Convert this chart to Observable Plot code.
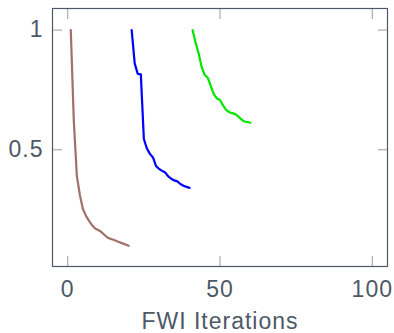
<!DOCTYPE html>
<html>
<head>
<meta charset="utf-8">
<script src="https://cdn.jsdelivr.net/npm/d3@7"></script>
<script src="https://cdn.jsdelivr.net/npm/@observablehq/plot@0.6"></script>
<style>
  html, body { margin: 0; padding: 0; background: #fff; }
</style>
</head>
<body>
<div id="chart"></div>
<script>
const xTicks = [0, 50, 100];
const yTicks = [0.5, 1];
const xLabel = "FWI Iterations";

const seriesNames = ["run A", "run B", "run C"];
const seriesColors = ["#a0716b", "#0000ff", "#00e600"];

const iterA = [1, 2, 3, 4, 5, 6, 7, 8, 9, 10, 11, 12, 13, 14, 15, 16, 17, 18, 19, 20];
const valA = [1.0, 0.62, 0.39, 0.31, 0.252, 0.224, 0.203, 0.185, 0.171, 0.165, 0.157, 0.145, 0.134, 0.128, 0.124, 0.119, 0.114, 0.109, 0.104, 0.099];

const iterB = [21, 22, 23, 24, 25, 26, 27, 28, 29, 30, 31, 32, 33, 34, 35, 36, 37, 38, 39, 40];
const valB = [1.0, 0.86, 0.817, 0.815, 0.545, 0.505, 0.483, 0.468, 0.432, 0.42, 0.412, 0.405, 0.389, 0.379, 0.372, 0.368, 0.357, 0.35, 0.345, 0.341];

const iterC = [41, 42, 43, 44, 45, 46, 47, 48, 49, 50, 51, 52, 53, 54, 55, 56, 57, 58, 59, 60];
const valC = [1.0, 0.947, 0.902, 0.845, 0.812, 0.80, 0.766, 0.731, 0.714, 0.708, 0.685, 0.667, 0.657, 0.653, 0.649, 0.639, 0.627, 0.618, 0.616, 0.613];

const table = [];
[[iterA, valA], [iterB, valB], [iterC, valC]].forEach(([xs, ys], k) => {
  xs.forEach((x, i) => table.push({series: seriesNames[k], x, y: ys[i]}));
});

const frameColor = "#4d5966";
const tickColor = "#9a9a9a";

const chart = Plot.plot({
  width: 394,
  height: 333,
  marginLeft: 52,
  marginTop: 8,
  marginRight: 7,
  marginBottom: 67,
  x: {domain: [-5, 105]},
  y: {domain: [0.0125, 1.09]},
  color: {type: "ordinal", domain: seriesNames, range: seriesColors},
  style: {
    fontFamily: "'Liberation Sans', Arial, sans-serif",
    fontSize: "23px",
    color: frameColor,
    letterSpacing: "1px",
    background: "white"
  },
  marks: [
    Plot.axisX(xTicks, {anchor: "bottom", tickSize: -10, stroke: tickColor, fill: "none", label: null}),
    Plot.axisX(xTicks, {anchor: "top", tickSize: -10, stroke: tickColor, fill: "none", label: null}),
    Plot.axisY(yTicks, {anchor: "left", tickSize: -10, stroke: tickColor, fill: "none", label: null}),
    Plot.axisY(yTicks, {anchor: "right", tickSize: -10, stroke: tickColor, fill: "none", label: null}),
    Plot.axisX(xTicks, {anchor: "bottom", tickSize: 0, tickPadding: 14, fill: frameColor, tickFormat: d => String(d),
      label: xLabel, labelAnchor: "center", labelArrow: "none", labelOffset: 62}),
    Plot.axisY(yTicks, {anchor: "left", tickSize: 0, tickPadding: 9, fill: frameColor, tickFormat: d => String(d), label: null}),
    Plot.line(table, {x: "x", y: "y", z: "series", stroke: "series", strokeWidth: 2.2}),
    Plot.frame({stroke: frameColor, strokeWidth: 1.2})
  ]
});
document.getElementById("chart").appendChild(chart);
</script>
</body>
</html>
